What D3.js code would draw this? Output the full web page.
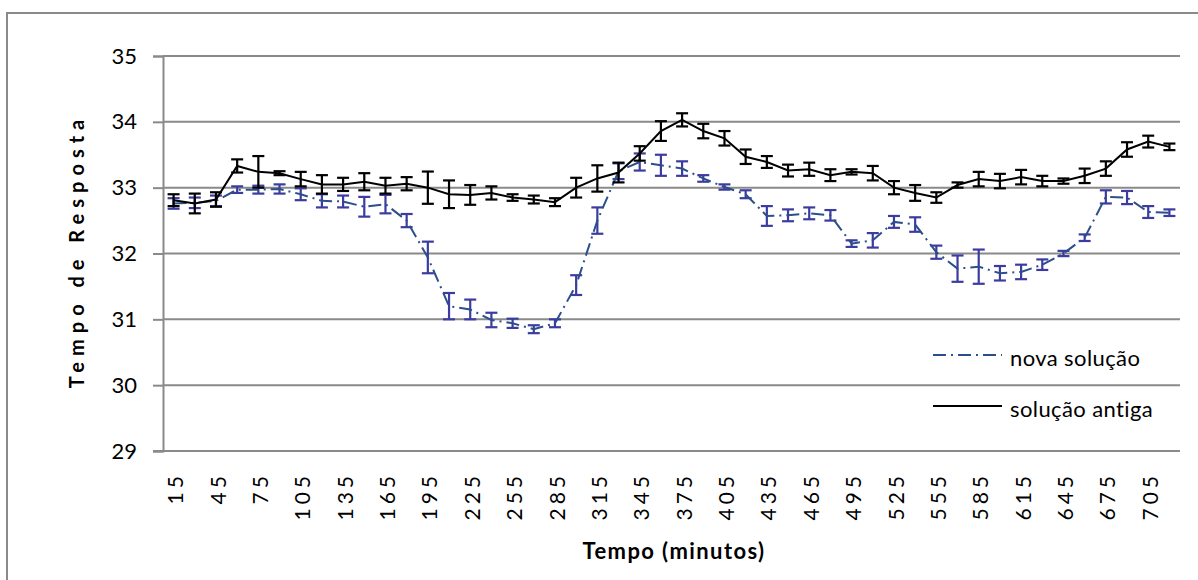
<!DOCTYPE html>
<html lang="pt">
<head>
<meta charset="UTF-8">
<title>Tempo de Resposta</title>
<style>
    * { margin: 0; padding: 0; }
    body { background: #fff; }
    svg { display: block; font-family: Lato, "Open Sans", sans-serif; }
</style>
<script src="https://cdn.jsdelivr.net/npm/d3@7"></script>
</head>
<body>
<div id="chart"></div>
<script>
// minutos 15..720
var tempos = [15,30,45,60,75,90,105,120,135,150,165,180,195,210,225,240,255,270,285,300,
              315,330,345,360,375,390,405,420,435,450,465,480,495,510,525,540,555,570,585,600,
              615,630,645,660,675,690,705,720];

var novaSolucao = [32.76,32.77,32.80,32.97,32.97,32.98,32.90,32.80,32.79,32.71,32.75,32.50,
                   31.94,31.20,31.15,30.99,30.94,30.85,30.94,31.52,32.50,33.25,33.39,33.34,
                   33.29,33.14,33.01,32.90,32.57,32.58,32.61,32.58,32.15,32.20,32.48,32.44,
                   32.02,31.77,31.80,31.70,31.72,31.83,32.00,32.24,32.86,32.85,32.63,32.62];
var novaErro = [0.08,0.08,0.08,0.05,0.06,0.07,0.09,0.10,0.09,0.15,0.14,0.10,
                0.24,0.20,0.15,0.11,0.07,0.06,0.06,0.15,0.20,0.12,0.13,0.16,
                0.11,0.05,0.04,0.06,0.15,0.09,0.09,0.08,0.05,0.11,0.09,0.11,
                0.10,0.20,0.26,0.11,0.11,0.08,0.04,0.05,0.10,0.10,0.09,0.05];

var solucaoAntiga = [32.81,32.76,32.82,33.33,33.24,33.22,33.13,33.05,33.05,33.09,33.03,33.06,
                     33.00,32.90,32.89,32.92,32.85,32.82,32.78,33.00,33.14,33.23,33.52,33.86,
                     34.03,33.86,33.75,33.47,33.39,33.26,33.28,33.19,33.24,33.22,33.00,32.92,
                     32.85,33.04,33.13,33.10,33.16,33.10,33.10,33.18,33.29,33.58,33.70,33.62];
var antigaErro = [0.09,0.15,0.11,0.10,0.24,0.03,0.11,0.14,0.10,0.13,0.12,0.10,
                  0.245,0.21,0.15,0.10,0.05,0.06,0.06,0.15,0.20,0.15,0.11,0.15,
                  0.10,0.11,0.11,0.11,0.09,0.09,0.10,0.09,0.04,0.11,0.10,0.12,
                  0.08,0.04,0.11,0.11,0.11,0.08,0.04,0.11,0.11,0.11,0.09,0.05];

var yTicks = [29,30,31,32,33,34,35];

var w = 1198, h = 580;
var plotLeft = 163, plotRight = 1180, plotTop = 56, plotBottom = 451;
var gray = '#8a8a8a';

var svg = d3.select('#chart').append('svg')
    .attr('width', w).attr('height', h);

// moldura do grafico
svg.append('path')
    .attr('d', 'M7,' + h + ' V13 H' + w)
    .attr('fill', 'none').attr('stroke', gray).attr('stroke-width', 2);

var x = d3.scaleBand().domain(tempos).range([plotLeft, plotRight]).padding(0);
var y = d3.scaleLinear().domain([29, 35]).range([plotBottom, plotTop]);
var cx = (d) => x(d) + x.bandwidth() / 2;

// grelha
svg.append('g').selectAll('line')
    .data(yTicks.filter((t) => t > 29))
    .enter().append('line')
    .attr('x1', plotLeft).attr('x2', plotRight)
    .attr('y1', (d) => y(d)).attr('y2', (d) => y(d))
    .attr('stroke', gray).attr('stroke-width', 2);

// eixo y
var yAxis = d3.axisLeft(y).tickValues(yTicks).tickFormat(d3.format('d'))
    .tickSize(10).tickPadding(16);
svg.append('g')
    .attr('transform', 'translate(' + plotLeft + ',0)')
    .call(yAxis)
    .call((g) => g.select('.domain').attr('stroke', gray).attr('stroke-width', 2))
    .call((g) => g.selectAll('.tick line').attr('stroke', gray).attr('stroke-width', 2))
    .call((g) => g.selectAll('.tick text')
        .attr('fill', '#000').style('font-size', '22px').style('font-family', 'Lato'));

// eixo x
svg.append('line')
    .attr('x1', plotLeft - 10).attr('x2', plotRight)
    .attr('y1', plotBottom).attr('y2', plotBottom)
    .attr('stroke', gray).attr('stroke-width', 2);

svg.append('g').selectAll('text')
    .data(tempos.filter((d, i) => i % 2 === 0))
    .enter().append('text')
    .attr('transform', (d) => 'translate(' + (cx(d) + 2) + ',' + 472 + ') rotate(-90)')
    .attr('text-anchor', 'end')
    .attr('dy', '0.36em')
    .style('font-size', '21px')
    .style('letter-spacing', '4px')
    .text((d) => d);

// titulos
svg.append('text')
    .attr('x', 674).attr('y', 559)
    .attr('text-anchor', 'middle')
    .style('font-size', '22px').style('font-weight', 'bold')
    .style('letter-spacing', '1.4px')
    .text('Tempo (minutos)');

svg.append('text')
    .attr('transform', 'translate(84,251) rotate(-90)')
    .attr('text-anchor', 'middle')
    .style('font-size', '20px').style('font-weight', 'bold')
    .style('letter-spacing', '6px')
    .text('Tempo de Resposta');

// series
var series = [
    { nome: 'nova solução', valores: novaSolucao, erros: novaErro,
      linha: '#2b4f8a', barra: '#3c3ca0', dash: '13,5,2,5' },
    { nome: 'solução antiga', valores: solucaoAntiga, erros: antigaErro,
      linha: '#000', barra: '#000', dash: null }
];

var line = d3.line().x((d) => cx(d.t)).y((d) => y(d.v));

series.forEach(function (s) {
    var pts = tempos.map((t, i) => ({ t: t, v: s.valores[i], e: s.erros[i] }));

    var eb = svg.append('g').attr('stroke', s.barra).attr('stroke-width', 2.2);
    eb.selectAll('.v').data(pts).enter().append('line')
        .attr('x1', (d) => cx(d.t)).attr('x2', (d) => cx(d.t))
        .attr('y1', (d) => y(d.v + d.e)).attr('y2', (d) => y(d.v - d.e));
    eb.selectAll('.hi').data(pts).enter().append('line')
        .attr('x1', (d) => cx(d.t) - 6).attr('x2', (d) => cx(d.t) + 6)
        .attr('y1', (d) => y(d.v + d.e)).attr('y2', (d) => y(d.v + d.e));
    eb.selectAll('.lo').data(pts).enter().append('line')
        .attr('x1', (d) => cx(d.t) - 6).attr('x2', (d) => cx(d.t) + 6)
        .attr('y1', (d) => y(d.v - d.e)).attr('y2', (d) => y(d.v - d.e));

    svg.append('path')
        .datum(pts)
        .attr('d', line)
        .attr('fill', 'none')
        .attr('stroke', s.linha)
        .attr('stroke-width', 2)
        .attr('stroke-dasharray', s.dash);
});

// legenda
var legend = svg.append('g');
series.forEach(function (s, i) {
    var ly = 355 + i * 51;
    legend.append('line')
        .attr('x1', 933).attr('x2', 1002)
        .attr('y1', ly).attr('y2', ly)
        .attr('stroke', s.linha).attr('stroke-width', 2)
        .attr('stroke-dasharray', s.dash);
    legend.append('text')
        .attr('x', 1010).attr('y', ly + 4)
        .attr('dy', '0.3em')
        .style('font-size', '22px')
        .style('letter-spacing', '0.4px')
        .text(s.nome);
});
</script>
</body>
</html>
